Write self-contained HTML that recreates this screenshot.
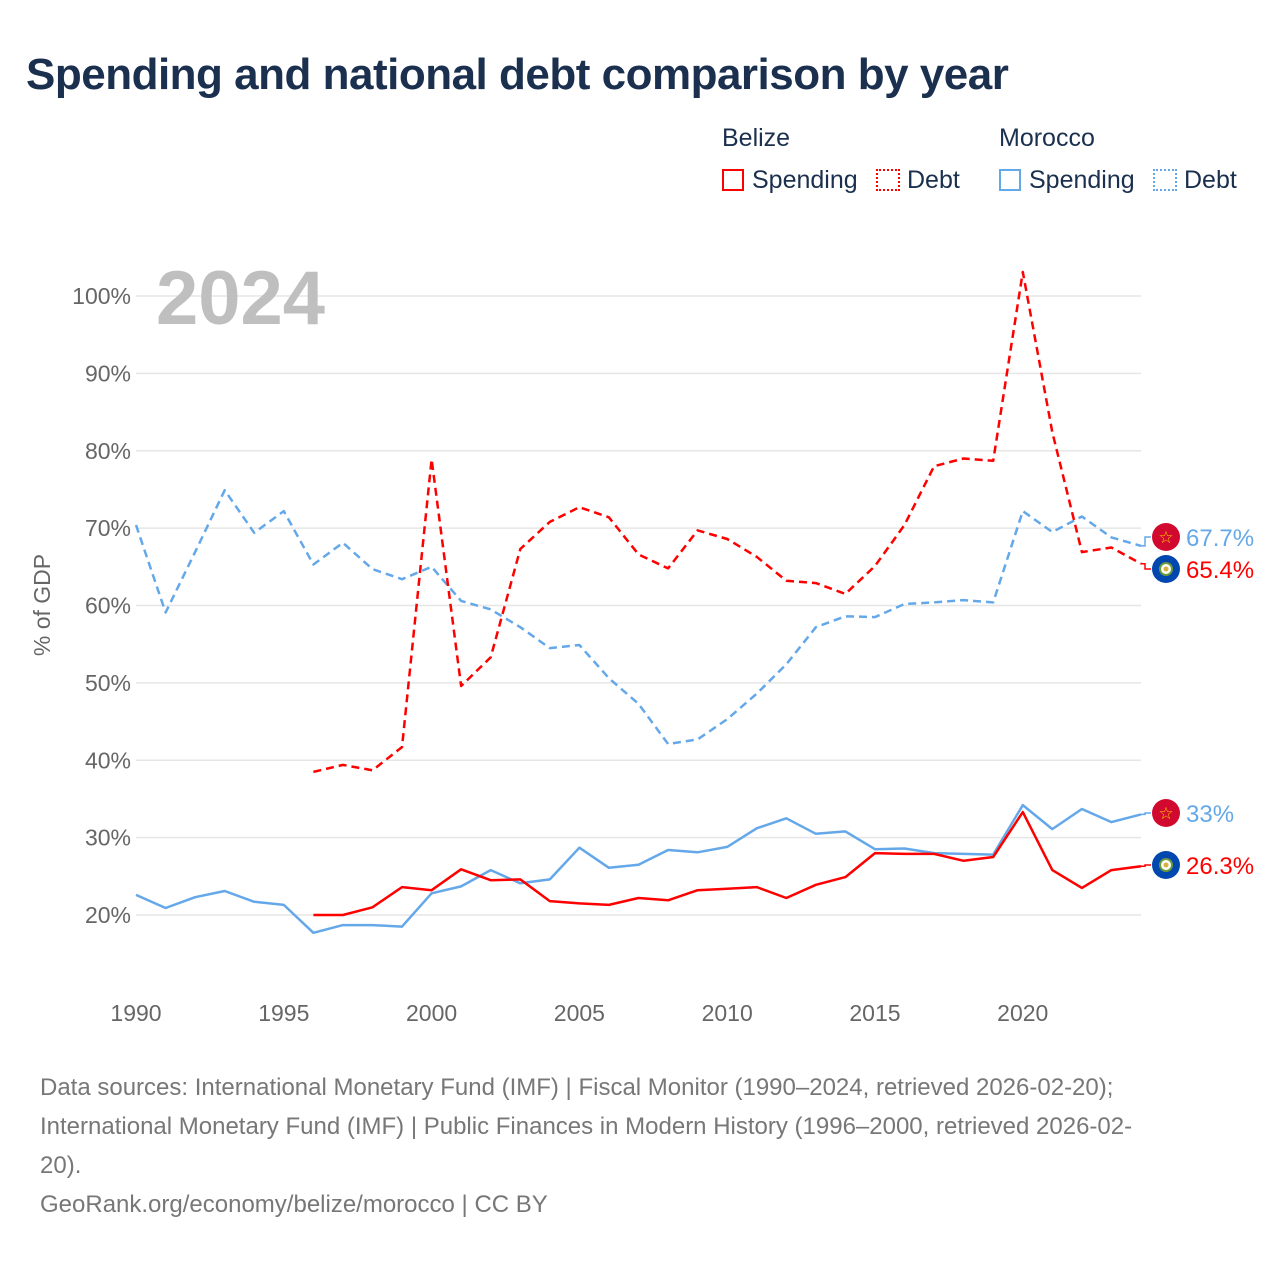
<!DOCTYPE html>
<html><head><meta charset="utf-8"><style>
body{margin:0;background:#fff;font-family:"Liberation Sans",sans-serif}
#wrap{position:relative;width:1280px;height:1280px;overflow:hidden}
.t{position:absolute;white-space:nowrap}
</style></head><body>
<div id="wrap">
<div class="t" style="left:26px;top:50px;font-size:44px;font-weight:bold;color:#1b2f4e;letter-spacing:-0.5px">Spending and national debt comparison by year</div>
<div class="t" style="left:722px;top:124px;font-size:25px;color:#1b2f4e">Belize</div>
<div class="t" style="left:999px;top:124px;font-size:25px;color:#1b2f4e">Morocco</div>
<div class="t" style="left:722px;top:166px;font-size:25px;color:#1b2f4e"><span style="display:inline-block;width:22px;height:22px;border:2px solid #f00;box-sizing:border-box;vertical-align:-3px;margin-right:8px"></span>Spending</div>
<div class="t" style="left:876px;top:166px;font-size:25px;color:#1b2f4e"><span style="display:inline-block;width:24px;height:22px;border:2px dotted #f00;box-sizing:border-box;vertical-align:-3px;margin-right:7px"></span>Debt</div>
<div class="t" style="left:999px;top:166px;font-size:25px;color:#1b2f4e"><span style="display:inline-block;width:22px;height:22px;border:2px solid #64a8ea;box-sizing:border-box;vertical-align:-3px;margin-right:8px"></span>Spending</div>
<div class="t" style="left:1153px;top:166px;font-size:25px;color:#1b2f4e"><span style="display:inline-block;width:24px;height:22px;border:2px dotted #64a8ea;box-sizing:border-box;vertical-align:-3px;margin-right:7px"></span>Debt</div>
<svg id="chart" width="1280" height="1280" style="position:absolute;left:0;top:0"></svg>
<div class="t" style="left:40px;top:1068px;font-size:24px;line-height:39px;color:#777;white-space:normal;width:1200px">Data sources: International Monetary Fund (IMF) | Fiscal Monitor (1990–2024, retrieved 2026-02-20);<br>International Monetary Fund (IMF) | Public Finances in Modern History (1996–2000, retrieved 2026-02-<br>20).<br>GeoRank.org/economy/belize/morocco | CC BY</div>
</div>
<script>
const years=[1990,1991,1992,1993,1994,1995,1996,1997,1998,1999,2000,2001,2002,2003,2004,2005,2006,2007,2008,2009,2010,2011,2012,2013,2014,2015,2016,2017,2018,2019,2020,2021,2022,2023,2024];
const moroccoDebt=[70.4,59.1,66.9,74.9,69.4,72.2,65.3,68.1,64.7,63.4,65,60.6,59.5,57.2,54.5,54.9,50.6,47.3,42.1,42.7,45.3,48.6,52.4,57.2,58.6,58.5,60.2,60.4,60.7,60.4,72.2,69.5,71.5,68.8,67.7];
const moroccoSpending=[22.6,20.9,22.3,23.1,21.7,21.3,17.7,18.7,18.7,18.5,22.8,23.7,25.8,24.1,24.6,28.7,26.1,26.5,28.4,28.1,28.8,31.2,32.5,30.5,30.8,28.5,28.6,28,27.9,27.8,34.2,31.1,33.7,32,33];
const belizeDebt=[null,null,null,null,null,null,38.5,39.4,38.7,41.7,78.9,49.6,53.3,67.3,70.8,72.7,71.4,66.6,64.8,69.7,68.6,66.3,63.2,62.9,61.5,65.1,70.4,78,79,78.7,103.1,82.4,66.9,67.5,65.4];
const belizeSpending=[null,null,null,null,null,null,20,20,21,23.6,23.2,25.9,24.5,24.6,21.8,21.5,21.3,22.2,21.9,23.2,23.4,23.6,22.2,23.9,24.9,28,27.9,27.9,27,27.5,33.3,25.8,23.5,25.8,26.3];
const yTicks=[20,30,40,50,60,70,80,90,100];
const xTicks=[1990,1995,2000,2005,2010,2015,2020];

const NS='http://www.w3.org/2000/svg';
const svg=document.getElementById('chart');
const X=y=>136+(y-1990)*(1141-136)/34;
const Y=v=>915-(v-20)*(915-296)/80;
function mk(tag,at,parent){const e=document.createElementNS(NS,tag);for(const k in at)e.setAttribute(k,at[k]);(parent||svg).appendChild(e);return e;}

yTicks.forEach(v=>{
  const l=mk('line',{x1:136,x2:1141,y1:Y(v),y2:Y(v),stroke:'#e6e6e6','stroke-width':1.5});
  
  
  const t=mk('text',{x:131,y:Y(v)+8,'text-anchor':'end','font-size':23,fill:'#666','font-family':'Liberation Sans, sans-serif'});
  t.textContent=v+'%';
  
  
});
xTicks.forEach(v=>{
  const t=mk('text',{x:X(v),y:1021,'text-anchor':'middle','font-size':23,fill:'#666','font-family':'Liberation Sans, sans-serif'});
  t.textContent=v;
  
  
});
const yt=mk('text',{x:0,y:0,transform:'translate(50,605) rotate(-90)','text-anchor':'middle','font-size':23,fill:'#666','font-family':'Liberation Sans, sans-serif'});
yt.textContent='% of GDP';


const yr=mk('text',{x:156,y:324,'font-size':76,'font-weight':'bold',fill:'#bfbfbf','font-family':'Liberation Sans, sans-serif'});
yr.textContent='2024';



function series(vals,color,dash,name){
  let d='';let pen=false;
  vals.forEach((v,i)=>{if(v==null){pen=false;return;}d+=(pen?'L':'M')+X(years[i]).toFixed(1)+','+Y(v).toFixed(1);pen=true;});
  const p=mk('path',{d:d,fill:'none',stroke:color,'stroke-width':2.5,'stroke-dasharray':dash||'none','stroke-linejoin':'round'});
  
  
}
series(moroccoDebt,'#64a8ea','8 5','morocco-debt-line');
series(belizeDebt,'#ff0000','8 5','belize-debt-line');
series(moroccoSpending,'#64a8ea',null,'morocco-spending-line');
series(belizeSpending,'#ff0000',null,'belize-spending-line');

function endLabel(val,ly,color,flag,text,name){
  const x0=X(2024),y0=Y(val);
  const c=mk('path',{d:`M${x0},${y0} L${x0+4},${y0} L${x0+4},${ly} L${x0+10},${ly}`,fill:'none',stroke:color,'stroke-width':1.5});
  
  
  const g=mk('g',{});
  
  
  if(flag==='MA'){
    mk('circle',{cx:1166,cy:ly,r:14,fill:'#d2092f'},g);
    const s=mk('text',{x:1166,y:ly+6,'text-anchor':'middle','font-size':17,fill:'#f6c600'},g);s.textContent='☆';
  }else{
    mk('circle',{cx:1166,cy:ly,r:14,fill:'#0047b0'},g);
    mk('circle',{cx:1166,cy:ly,r:6,fill:'#fff',stroke:'#6a9a3a','stroke-width':2},g);
    mk('circle',{cx:1166,cy:ly,r:2.5,fill:'#d8b040'},g);
  }
  const t=mk('text',{x:1186,y:ly+9,'font-size':24,fill:color,'font-family':'Liberation Sans, sans-serif'});
  t.textContent=text;
  
  
}
endLabel(moroccoDebt[34],537,'#64a8ea','MA',moroccoDebt[34]+'%','morocco-debt');
endLabel(belizeDebt[34],569,'#ff0000','BZ',belizeDebt[34]+'%','belize-debt');
endLabel(moroccoSpending[34],813,'#64a8ea','MA',moroccoSpending[34]+'%','morocco-spending');
endLabel(belizeSpending[34],865,'#ff0000','BZ',belizeSpending[34]+'%','belize-spending');
</script>
</body></html>
